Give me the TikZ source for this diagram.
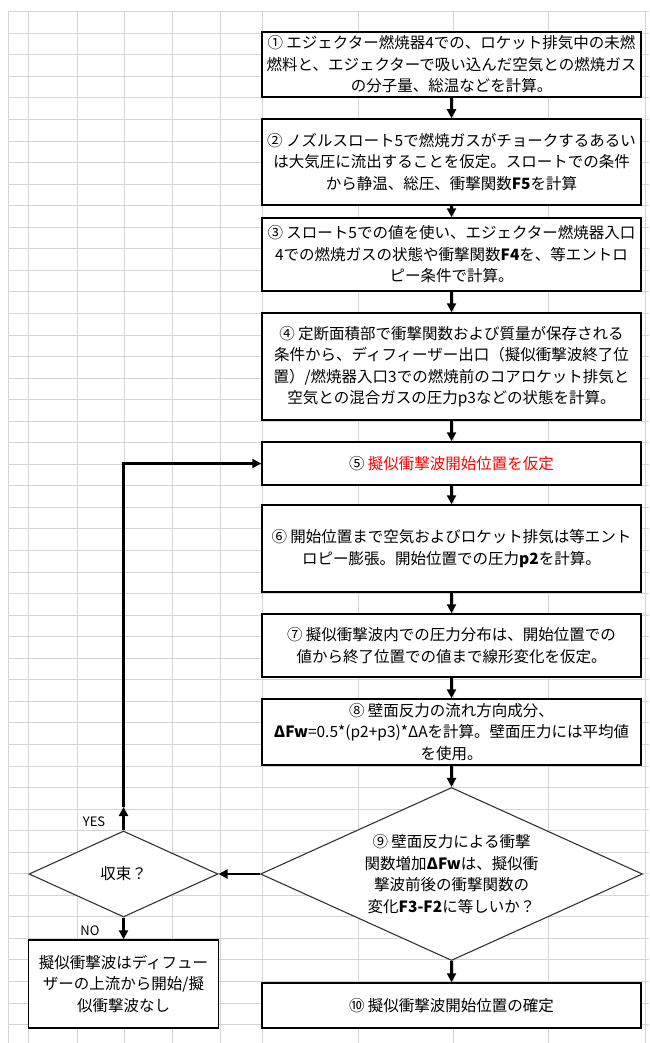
\documentclass[tikz,border=0pt]{standalone}
\usepackage{fontspec}
\setmainfont{Noto Sans CJK JP}
\usetikzlibrary{shapes.geometric,arrows.meta}
\definecolor{gridc}{RGB}{212,212,212}
\begin{document}
\begin{tikzpicture}[x=1pt,y=-1pt,
  font=\fontsize{15.5pt}{21.5pt}\selectfont,
  gridline/.style={draw=gridc, line width=0.9pt},
  stepbox/.style={draw=black, line width=1.5pt, fill=white, rectangle, minimum width=379pt, inner sep=0pt, align=center},
  decide/.style={draw=black!80, line width=1.1pt, fill=white, diamond, aspect=2.2, inner sep=0pt, align=center},
  flow/.style={line width=2.2pt, -{Triangle[length=9pt,width=9pt]}},
  lbl/.style={inner sep=0pt, font=\fontsize{13pt}{14pt}\selectfont}
]
\useasboundingbox (0,0) rectangle (649,1043);
% spreadsheet grid
\foreach \k in {0,...,47} { \draw[gridline] (8,{11.7+21.55*\k}) -- (649,{11.7+21.55*\k}); }
\foreach \xx in {8,28,77,124,172,220,262,358,453,548,645} { \draw[gridline] (\xx,11.7) -- (\xx,1043); }

% steps
\node[stepbox, minimum height=65pt] (b1) at (451.5,64.5) {① エジェクター燃焼器4での、ロケット排気中の未燃\\燃料と、エジェクターで吸い込んだ空気との燃焼ガス\\の分子量、総温などを計算。};
\node[stepbox, minimum height=86pt] (b2) at (451.5,162) {② ノズルスロート5で燃焼ガスがチョークするあるい\\は大気圧に流出することを仮定。スロートでの条件\\から静温、総圧、衝撃関数\textbf{F5}を計算};
\node[stepbox, minimum height=73pt] (b3) at (451.5,254.5) {③ スロート5での値を使い、エジェクター燃焼器入口\\4での燃焼ガスの状態や衝撃関数\textbf{F4}を、等エントロ\\ピー条件で計算。};
\node[stepbox, minimum height=107pt] (b4) at (451.5,366.5) {④ 定断面積部で衝撃関数および質量が保存される\\条件から、ディフィーザー出口（擬似衝撃波終了位\\置）/燃焼器入口3での燃焼前のコアロケット排気と\\空気との混合ガスの圧力p3などの状態を計算。};
\node[stepbox, minimum height=43pt] (b5) at (451.5,463.5) {⑤ \textcolor{red}{擬似衝撃波開始位置を仮定}};
\node[stepbox, minimum height=87pt] (b6) at (451.5,548.5) {⑥ 開始位置まで空気およびロケット排気は等エント\\ロピー膨張。開始位置での圧力\textbf{p2}を計算。};
\node[stepbox, minimum height=63pt] (b7) at (451.5,645.5) {⑦ 擬似衝撃波内での圧力分布は、開始位置での\\値から終了位置での値まで線形変化を仮定。};
\node[stepbox, minimum height=66pt] (b8) at (451.5,732) {⑧ 壁面反力の流れ方向成分、\\\textbf{ΔFw}=0.5*(p2+p3)*ΔAを計算。壁面圧力には平均値\\を使用。};
\node[decide, minimum width=382pt, minimum height=173pt] (d9) at (451.5,874) {⑨ 壁面反力による衝撃\\関数増加\textbf{ΔFw}は、擬似衝\\撃波前後の衝撃関数の\\変化\textbf{F3-F2}に等しいか？};
\node[stepbox, minimum height=45pt] (b10) at (451.5,1005.5) {⑩ 擬似衝撃波開始位置の確定};
\node[decide, minimum width=189pt, minimum height=86pt] (d0) at (123.5,874) {収束？};
\node[stepbox, minimum width=190pt, minimum height=88pt] (nb) at (123.5,984) {擬似衝撃波はディフュー\\ザーの上流から開始/擬\\似衝撃波なし};

% connectors
\draw[flow] (b1.south) -- (b2.north);
\draw[flow] (b2.south) -- (b3.north);
\draw[flow] (b3.south) -- (b4.north);
\draw[flow] (b4.south) -- (b5.north);
\draw[flow] (b5.south) -- (b6.north);
\draw[flow] (b6.south) -- (b7.north);
\draw[flow] (b7.south) -- (b8.north);
\draw[flow] (b8.south) -- (d9.north);
\draw[flow] (d9.south) -- (b10.north);
\draw[flow] (d9.west) -- (d0.east);
\draw[flow] (d0.south) -- (nb.north);
\coordinate (yesmid) at (123.5,807);
\draw[flow] (d0.north) -- (yesmid);
\draw[flow] (yesmid) |- (b5.west);

% labels
\node[lbl] (yes) at (94,822) {YES};
\node[lbl] (no) at (90,931) {NO};
\end{tikzpicture}
\end{document}
